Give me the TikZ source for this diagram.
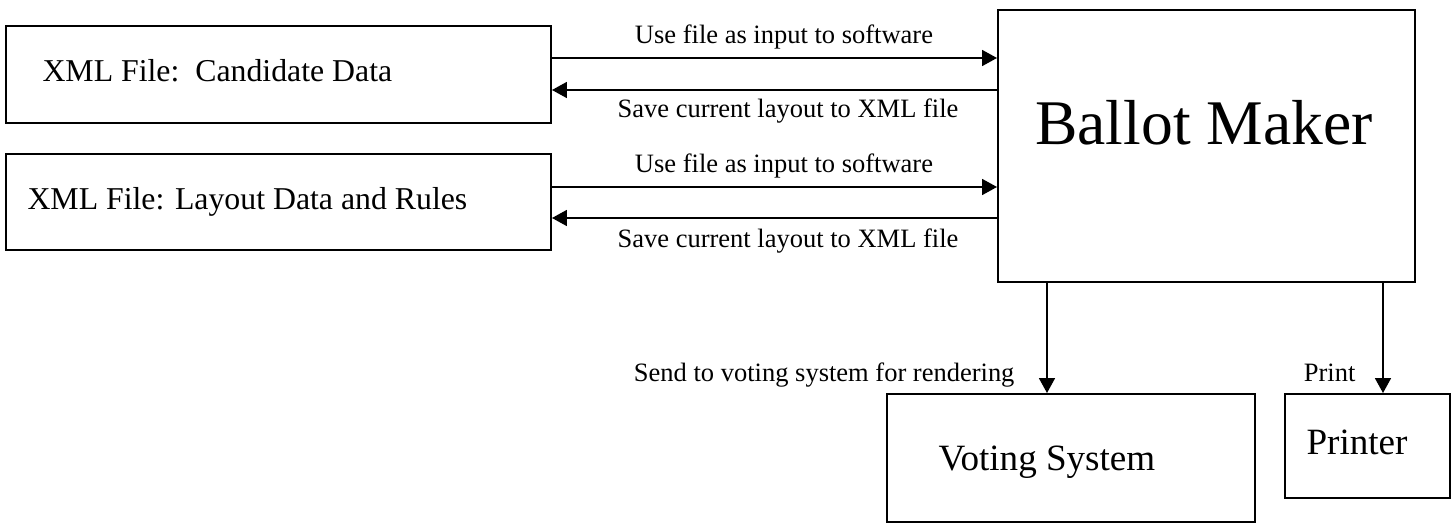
\documentclass[tikz,border=0pt]{standalone}
\usepackage{fontspec}
\setmainfont{Liberation Serif}
\usetikzlibrary{arrows.meta}
\def\upx{0.3774pt}
\begin{document}
\begin{tikzpicture}[x=0.3774pt,y=-0.3774pt,
  box/.style={draw,line width=0.75pt,inner sep=0pt},
  arr/.style={line width=0.6pt,-{Triangle[length=5.6pt,width=6pt]}},
  lbl/.style={inner sep=0pt,font=\fontsize{10pt}{12pt}\selectfont},
  txtb/.style={inner sep=0pt,font=\fontsize{12pt}{14pt}\selectfont},
  txtc/.style={inner sep=0pt,font=\fontsize{14pt}{16pt}\selectfont},
  txtd/.style={inner sep=0pt,font=\fontsize{24pt}{28pt}\selectfont}]
\useasboundingbox (0,0) rectangle (1456,523);
% boxes
\node[box,minimum width=545*\upx,minimum height=97*\upx] (cand) at (278.5,74.5) {};
\node[box,minimum width=545*\upx,minimum height=96*\upx] (lay) at (278.5,202) {};
\node[box,minimum width=417*\upx,minimum height=272*\upx] (bm) at (1206.5,146) {};
\node[box,minimum width=368*\upx,minimum height=128*\upx] (vs) at (1071,458) {};
\node[box,minimum width=165*\upx,minimum height=104*\upx] (pr) at (1367.5,446) {};
% box texts
\node[txtb,anchor=base west] (candt) at (42,82) {XML File:\ \ Candidate Data};
\node[txtb,anchor=base west] (layt) at (27,210) {XML File: Layout Data and Rules};
\node[txtd,anchor=base] (bmt) at (1204,145) {Ballot Maker};
\node[txtc,anchor=base west] (vst) at (938,470) {Voting System};
\node[txtc,anchor=base] (prt) at (1357,455) {Printer};
% row coordinates
\coordinate (r1) at (0,58);
\coordinate (r2) at (0,90);
\coordinate (r3) at (0,187);
\coordinate (r4) at (0,218);
\coordinate (c1) at (1047,0);
\coordinate (c2) at (1383,0);
% connectors
\draw[arr] (cand.east |- r1) -- (bm.west |- r1);
\draw[arr] (bm.west |- r2) -- (cand.east |- r2);
\draw[arr] (lay.east |- r3) -- (bm.west |- r3);
\draw[arr] (bm.west |- r4) -- (lay.east |- r4);
\draw[arr] (bm.south -| c1) -- (vs.north -| c1);
\draw[arr] (bm.south -| c2) -- (pr.north -| c2);
% connector labels
\node[lbl,anchor=base] (l1) at (784,44) {Use file as input to software};
\node[lbl,anchor=base] (l2) at (788,118) {Save current layout to XML file};
\node[lbl,anchor=base] (l3) at (784,173) {Use file as input to software};
\node[lbl,anchor=base] (l4) at (788,248) {Save current layout to XML file};
\node[lbl,anchor=base east] (l5) at (1015,382) {Send to voting system for rendering};
\node[lbl,anchor=base east] (l6) at (1356,382) {Print};
\end{tikzpicture}
\end{document}
